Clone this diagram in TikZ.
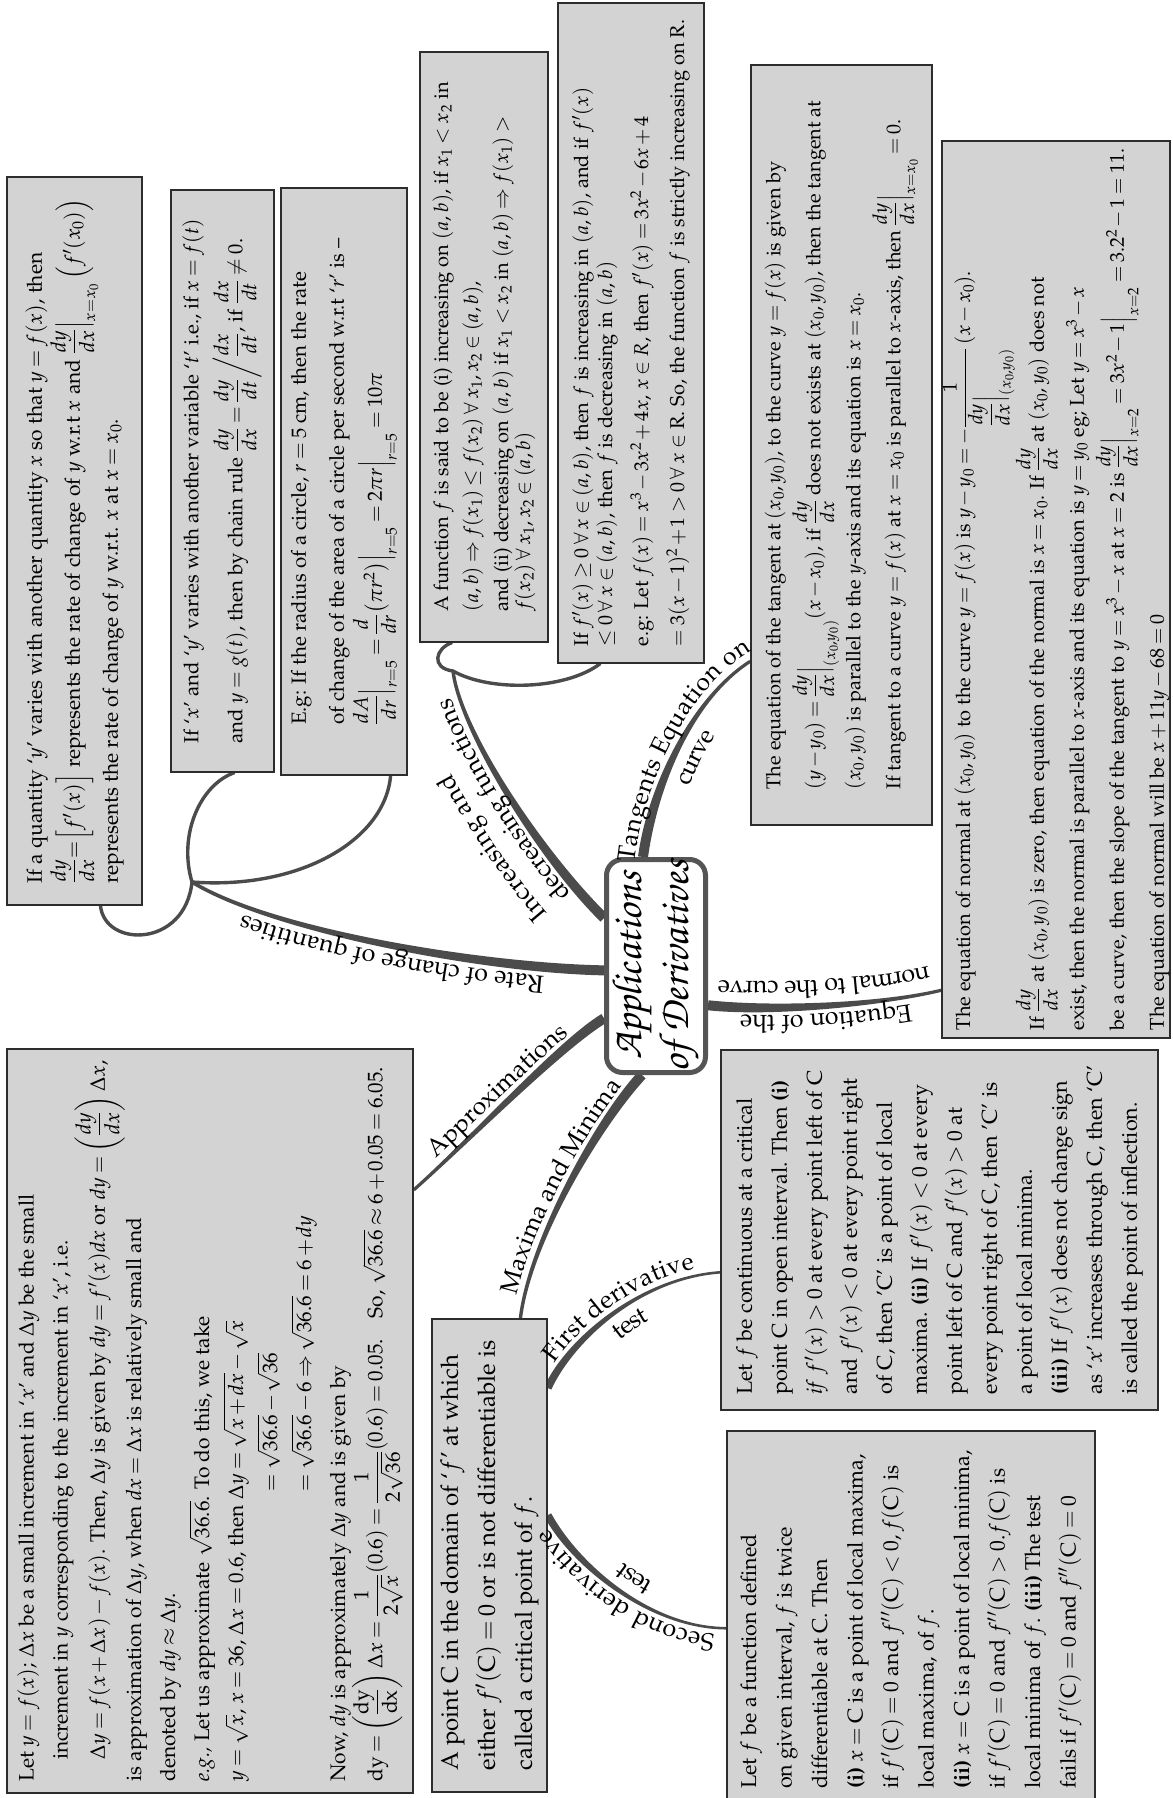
\documentclass[tikz,border=0pt]{standalone}
\usepackage[T1]{fontenc}
\usepackage{mathpazo}
\usepackage{amsmath}
\usepackage{pdfrender}
\usetikzlibrary{calc, decorations.text}

\definecolor{boxgray}{RGB}{211,211,211}
\definecolor{boxline}{RGB}{45,45,45}
\definecolor{branchgray}{RGB}{75,75,75}
\definecolor{rootline}{RGB}{85,85,85}

\newcommand{\tightmath}{\thickmuskip=3.5mu plus 2mu\medmuskip=2mu plus 1mu}
\newcommand{\boxfont}{\fontsize{21}{38}\selectfont\tightmath}
\newcommand{\lblfont}{\fontsize{25}{25}\selectfont}
\newcommand{\rootfont}{\fontsize{42}{47}\fontfamily{pzc}\fontseries{mb}\fontshape{it}\selectfont}
\newcommand{\heavy}[1]{\textpdfrender{TextRenderingMode=FillStroke,LineWidth=1.8pt}{#1}}

\pgfdeclarelayer{background}
\pgfsetlayers{background,main}

% tapered branch: start, control 1, control 2, end, half width at start, half width at end
\newcommand{\taper}[6]{%
  \path ($(#1)!#5!90:(#2)$) coordinate (tpa)
        ($(#1)!#5!-90:(#2)$) coordinate (tpb)
        ($(#4)!#6!-90:(#3)$) coordinate (tpc)
        ($(#4)!#6!90:(#3)$) coordinate (tpd);
  \fill[branchgray] (tpa) .. controls ($(#2)+(tpa)-(#1)$) and ($(#3)+(tpc)-(#4)$) .. (tpc)
     -- (tpd) .. controls ($(#3)+(tpd)-(#4)$) and ($(#2)+(tpb)-(#1)$) .. (tpb) -- cycle;
}

\begin{document}
\begin{tikzpicture}[x=1pt, y=-1pt,
  infobox/.style={draw=boxline, fill=boxgray, line width=1.6pt, rotate=90, align=left, inner sep=0pt, font=\boxfont},
  rootbox/.style={draw=rootline, fill=white, line width=5pt, rounded corners=16pt, rotate=90, align=center,
    minimum width=213, minimum height=99, inner sep=0pt, font=\rootfont},
  twig/.style={draw=branchgray, line width=3.4pt, line cap=round},
  lbl/.style 2 args={decorate, decoration={text along path, text={|\lblfont|#2}, text align=center, raise=#1}},
  lblleft/.style 2 args={decorate, decoration={text along path, text={|\lblfont|#2}, text align={left indent=40pt}, raise=#1}}
]
\useasboundingbox (0,0) rectangle (1172,1798);

% centre
\node[rootbox] (root) at (656,966) {\heavy{Applications}\\\heavy{of Derivatives}};

% rate of change
\node[infobox, minimum width=728, minimum height=135, font=\fontsize{21}{38}\selectfont\tightmath] (rdef) at (74.5,541) {%
If a quantity `$y$' varies with another quantity $x$ so that $y=f(x)$, then\\
$\dfrac{dy}{dx}{=}\Big[f'(x)\Big]$ represents the rate of change of $y$ w.r.t $x$ and $\dfrac{dy}{dx}\Big|_{x=x_0}\,\Big(f'(x_0)\Big)$\\
represents the rate of change of $y$ w.r.t. $x$ at $x=x_0$.};

\node[infobox, minimum width=582, minimum height=103, font=\fontsize{20.5}{44}\selectfont\tightmath] (chain) at (222.5,481) {%
If `$x$' and `$y$' varies with another variable `$t$' i.e., if $x=f(t)$\\
and $y=g(t)$, then by chain rule $\dfrac{dy}{dx}=\dfrac{dy}{dt}\bigg/\dfrac{dx}{dt}$, if $\dfrac{dx}{dt}\neq0$.};

\node[infobox, minimum width=587, minimum height=126, font=\fontsize{20.5}{38}\selectfont\tightmath] (egr) at (344,481.5) {%
E.g: If the radius of a circle, $r=5$ cm, then the rate\\
of change of the area of a circle per second w.r.t `$r$' is --\\
$\dfrac{dA}{dr}\Big|_{r=5}=\dfrac{d}{dr}\big(\pi r^2\big)\Big|_{r=5}=2\pi r\Big|_{r=5}=10\pi$};

% increasing and decreasing
\node[infobox, minimum width=590, minimum height=128, font=\fontsize{20}{30}\selectfont\tightmath] (incdef) at (484,347) {%
A function $f$ is said to be (i) increasing on $(a,b)$, if $x_1<x_2$ in\\
$(a,b)\Rightarrow f(x_1)\le f(x_2)\,\forall\, x_1,x_2\in(a,b)$,\\
and (ii) decreasing on $(a,b)$ if $x_1<x_2$ in $(a,b)\Rightarrow f(x_1)>$\\[-8pt]
$f(x_2)\,\forall\, x_1,x_2\in(a,b)$};

\node[infobox, minimum width=660, minimum height=146, font=\fontsize{20}{36}\selectfont\tightmath] (incex) at (631,333) {%
If $f'(x)\ge0\,\forall\, x\in(a,b)$, then $f$ is increasing in $(a,b)$, and if $f'(x)$\\[-12pt]
$\le0\,\forall\, x\in(a,b)$, then $f$ is decreasing in $(a,b)$\\
e.g: Let $f(x)=x^3-3x^2+4x$, $x\in R$, then $f'(x)=3x^2-6x+4$\\
$=3(x-1)^2+1>0\,\forall\, x\in$ R. So, the function $f$ is strictly increasing on R.};

% tangent
\node[infobox, minimum width=760, minimum height=181, font=\fontsize{20}{40}\selectfont\tightmath] (tan) at (841.5,445) {%
The equation of the tangent at $(x_0,y_0)$, to the curve $y=f(x)$ is given by\\
$(y-y_0)=\dfrac{dy}{dx}\Big|_{(x_0,y_0)}(x-x_0)$, if $\dfrac{dy}{dx}$ does not exists at $(x_0,y_0)$, then the tangent at\\
$(x_0,y_0)$ is parallel to the $y$-axis and its equation is $x=x_0$.\\
If tangent to a curve $y=f(x)$ at $x=x_0$ is parallel to $x$-axis, then $\dfrac{dy}{dx}\Big|_{x=x_0}=0$.};

% normal
\node[infobox, minimum width=897, minimum height=228, font=\fontsize{20}{40}\selectfont\tightmath] (nrm) at (1056,589.5) {%
The equation of normal at $(x_0,y_0)$ to the curve $y=f(x)$ is $y-y_0=-\dfrac{1}{\dfrac{dy}{dx}\Big|_{(x_0,y_0)}}\,(x-x_0)$.\\
If $\dfrac{dy}{dx}$ at $(x_0,y_0)$ is zero, then equation of the normal is $x=x_0$. If $\dfrac{dy}{dx}$ at $(x_0,y_0)$ does not\\
exist, then the normal is parallel to $x$-axis and its equation is $y=y_0$ eg; Let $y=x^3-x$\\
be a curve, then the slope of the tangent to $y=x^3-x$ at $x=2$ is $\dfrac{dy}{dx}\Big|_{x=2}=3x^2-1\Big|_{x=2}=3.2^2-1=11.$\\
The equation of normal will be $x+11y-68=0$};

% approximations
\node[infobox, minimum width=744, minimum height=406, font=\fontsize{21}{34}\selectfont\tightmath] (apx) at (210,1421) {%
Let $y=f(x)$; $\Delta x$ be a small increment in `$x$' and $\Delta y$ be the small\\
\hspace*{22pt}increment in $y$ corresponding to the increment in `$x$', i.e.\\
\hspace*{22pt}$\Delta y=f(x+\Delta x)-f(x)$. Then, $\Delta y$ is given by $dy=f'(x)dx$ or $dy=\left(\dfrac{dy}{dx}\right)\Delta x$,\\
is approximation of $\Delta y$, when $dx=\Delta x$ is relatively small and\\
denoted by $dy\approx\Delta y$.\\
\textit{e.g.,} Let us approximate $\sqrt{36.6}$. To do this, we take\\
$y=\sqrt{x}$, $x=36$, $\Delta x=0.6$, then $\Delta y=\sqrt{x+dx}-\sqrt{x}$\\
\hspace*{290pt}$=\sqrt{36.6}-\sqrt{36}$\\
\hspace*{290pt}$=\sqrt{36.6}-6\Rightarrow\sqrt{36.6}=6+dy$\\
Now, $dy$ is approximately $\Delta y$ and is given by\\
$\mathrm{dy}=\left(\dfrac{\mathrm{dy}}{\mathrm{dx}}\right)\Delta x=\dfrac{1}{2\sqrt{x}}(0.6)=\dfrac{1}{2\sqrt{36}}(0.6)=0.05$.\quad So, $\sqrt{36.6}\approx6+0.05=6.05$.};

% maxima and minima
\node[infobox, minimum width=473, minimum height=115, font=\fontsize{24}{37}\selectfont\tightmath] (crit) at (489.5,1555.5) {%
A point C in the domain of `$f$' at which\\
either $f'(\mathrm{C})=0$ or is not differentiable is\\
called a critical point of $f$.};

\node[infobox, minimum width=360, minimum height=437, font=\fontsize{21.5}{35}\selectfont\tightmath] (fdt) at (939.5,1230) {%
Let $f$ be continuous at a critical\\
point C in open interval. Then \textbf{(i)}\\
\textit{if} $f'(x)>0$ at every point left of C\\
and $f'(x)<0$ at every point right\\
of C, then 'C' is a point of local\\
maxima. \textbf{(ii)} If $f'(x)<0$ at every\\
point left of C and $f'(x)>0$ at\\
every point right of C, then 'C' is\\
a point of local minima.\\
\textbf{(iii)} If $f'(x)$ does not change sign\\
as `$x$' increases through C, then `C'\\
is called the point of inflection.};

\node[infobox, minimum width=377, minimum height=368, font=\fontsize{21.5}{35.5}\selectfont\tightmath] (sdt) at (911,1619.5) {%
Let $f$ be a function defined\\
on given interval, $f$ is twice\\
differentiable at C. Then\\
\textbf{(i)} $x=\mathrm{C}$ is a point of local maxima,\\
if $f'(\mathrm{C})=0$ and $f''(\mathrm{C})<0, f(\mathrm{C})$ is\\
local maxima, of $f$.\\
\textbf{(ii)} $x=\mathrm{C}$ is a point of local minima,\\
if $f'(\mathrm{C})=0$ and $f''(\mathrm{C})>0. f(\mathrm{C})$ is\\
local minima of $f$. \textbf{(iii)} The test\\
fails if $f'(\mathrm{C})=0$ and $f''(\mathrm{C})=0$};

% where the branches meet the boxes
\coordinate (rs) at ($(root.north west)!0.48!(root.north east)$);
\coordinate (is) at ($(root.north west)!0.72!(root.north east)$);
\coordinate (as) at ($(root.north west)!0.26!(root.north east)$);
\coordinate (ts) at ($(root.north east)!0.375!(root.south east)$);
\coordinate (ns) at ($(root.south west)!0.32!(root.south east)$);
\coordinate (ms) at ($(root.north west)!0.365!(root.south west)$);
\coordinate (te) at ($(tan.north west)!0.216!(tan.north east)$);
\coordinate (ne) at ($(nrm.north west)!0.054!(nrm.north east)$);
\coordinate (ae) at ($(apx.south west)!0.81!(apx.south east)$);
\coordinate (me) at ($(crit.north east)!0.765!(crit.south east)$);
\coordinate (fs) at ($(crit.south west)!0.853!(crit.south east)$);
\coordinate (fe) at ($(fdt.north west)!0.383!(fdt.north east)$);
\coordinate (ss) at ($(crit.south west)!0.585!(crit.south east)$);
\coordinate (se) at ($(sdt.north west)!0.477!(sdt.north east)$);
\coordinate (r1) at ($(rdef.north west)!0.69!(rdef.south west)$);
\coordinate (r2) at ($(chain.north west)!0.61!(chain.south west)$);
\coordinate (r3) at ($(egr.north west)!0.865!(egr.south west)$);
\coordinate (i4) at ($(incdef.north west)!0.25!(incdef.south west)$);
\coordinate (i5) at ($(incex.north west)!0.29!(incex.south west)$);
\coordinate (rj) at (192,882);
\coordinate (ij) at (453,671);

\begin{pgfonlayer}{background}
  \fill[white] (0,0) rectangle (1172,1798);
  \taper{rs}{480,968}{270,930}{rj}{5pt}{1.8pt}
  \taper{is}{540,855}{460,730}{ij}{5pt}{1.7pt}
  \taper{ts}{652,790}{690,700}{te}{5pt}{1.6pt}
  \taper{ns}{770,1012}{880,1005}{ne}{5pt}{1.6pt}
  \taper{as}{560,1045}{470,1140}{ae}{5pt}{1.6pt}
  \taper{ms}{600,1120}{530,1240}{me}{5pt}{1.7pt}
  \taper{fs}{570,1340}{640,1278}{fe}{3.8pt}{1.3pt}
  \taper{ss}{575,1565}{650,1628}{se}{3.8pt}{1.3pt}
  \draw[twig] (rj) .. controls (300,890) and (385,840) .. (r3);
  \draw[twig] (rj) .. controls (178,835) and (200,785) .. (r2);
  \draw[twig] (rj) .. controls (185,948) and (105,948) .. (r1);
  \draw[twig] (ij) .. controls (430,668) and (436,648) .. (i4);
  \draw[twig] (ij) .. controls (490,692) and (565,690) .. (i5);
\end{pgfonlayer}

% branch labels
\path[lbl={9pt}{Rate of change of quantities}] (rs) .. controls (480,968) and (270,930) .. (rj);
\path[lblleft={8pt}{decreasing functions}] (is) .. controls (540,855) and (460,730) .. (ij);
\path[lblleft={39pt}{Increasing and}] (is) .. controls (540,855) and (460,730) .. (ij);
\path[lbl={8pt}{Tangents Equation on}] (ts) .. controls (652,790) and (690,700) .. (te);
\path[lbl={-26pt}{curve}] (ts) .. controls (652,790) and (690,700) .. (te);
\path[lbl={8pt}{Equation of the}] (ne) .. controls (880,1005) and (770,1012) .. (ns);
\path[lbl={-26pt}{normal to the curve}] (ne) .. controls (880,1005) and (770,1012) .. (ns);
\path[lbl={8pt}{Approximations}] (ae) .. controls (470,1140) and (560,1045) .. (as);
\path[lbl={8pt}{Maxima and Minima}] (me) .. controls (530,1240) and (600,1120) .. (ms);
\path[lbl={7pt}{First derivative}] (fs) .. controls (570,1340) and (640,1278) .. (fe);
\path[lbl={-25pt}{test}] (fs) .. controls (570,1340) and (640,1278) .. (fe);
\path[lbl={7pt}{Second derivative}] (se) .. controls (650,1628) and (575,1565) .. (ss);
\path[lbl={-25pt}{test}] (se) .. controls (650,1628) and (575,1565) .. (ss);
\end{tikzpicture}
\end{document}
